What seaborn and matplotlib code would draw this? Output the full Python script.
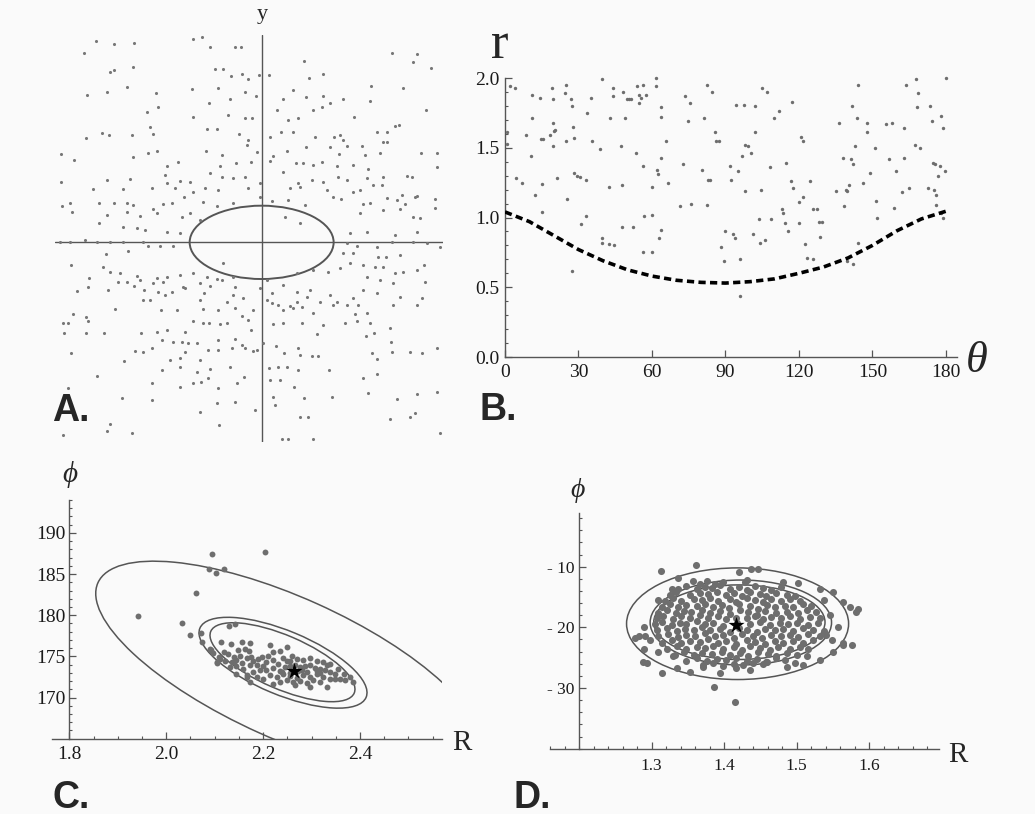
import numpy as np
import pandas as pd
import matplotlib
matplotlib.use("Agg")
import matplotlib.pyplot as plt
import seaborn as sns
from matplotlib.patches import Ellipse, Circle
from matplotlib.transforms import Affine2D
from matplotlib.ticker import MultipleLocator

# ---------------- data ----------------
# Panel A: scattered (x, y) points, arbitrary units centred on the crosshair
a_x = [-498, -442, -382, -207, -180, -154, -79, -63, -533, 390, 465, 455, 128, -387, 508, -455, -444, -140, -115, 183, 143, -93, -58, -40, -7, 23,
       -525, -465, -405, -317, -210, -130, -50, -17, 93, 327, 425, 245, 185, 133, 63, -95, 325, 493,
       -312, -345, -157, 45, 153, 182, 205, 277, -205, -100, -50, -30, 80, 110, 412, 400, 345, 375, -480, -527, -458, -390, -335, -327, -165, -135, -67, 25, 57, 95, 160, 217, 235, 245,
       -602, -563, -387, -340, -315, -167, -118, -40, -45, -15, 33, 75, 133, 205, 255, 300, 233, 310, 355, 477, 525, 365, 375, -283, -250, -125, -78, -33, 25, 103, 123, 155, 180, 227, 275, 320, 525,
       -465, -395, -290, -245, -215, -155, -120, -85, -50, -5, 65, 108, 150, 185, 230, 255, 315, 365, 435, 452, -602, -505, -415, -330, -285, -260, -205, -170, -130, -40, -5, 85, 115, 195, 275, 295, 335, 360, 420, 465,
       -598, -575, -570, -487, -442, -405, -385, -325, -295, -270, -233, -175, -135, -85, 30, 80, 130, 215, 237, 305, 325, 375, 405, 460, 520, 520,
       -465, -405, -365, -315, -240, -215, -185, 70, 115, 295, 365, 415, 430, 455, 475, -487, -417, -375, -350, -285, -245, 265, 315, 400, 465,
       -605, -575, -530, -495, -455, -415, -355, -305, -265, 255, 285, 345, 390, 455, 495, 535, -400, -340, -467, 245, 273, 350, 373, 415,
       -573, -475, -455, -425, -375, -315, -285, -245, -205, -165, -117, -135, -85, 105, 155, 200, 235, 265, 305, 340, 365, 400, 425, 465, 487, -517, -430, -405, -365, -325, -295, -235, -185, -155, -120, -80, -5, 15, 65, 105, 145, 315, 355, 395, 490,
       -553, -520, -460, -382, -352, -310, -270, -230, -173, -85, 30, 105, 135, 175, 205, 225, 275, 305, 345, 415,
       -357, -335, -290, -185, -105, -55, 15, 30, 50, 85, 120, 155, 215, 255, 290, 395, 465, 480, -440, -302, -255, -175, -130, -80, -25, 65, 95, 280, 315,
       -595, -580, -565, -527, -520, -592, -527, -473, -362, -315, -285, -230, -207, -175, -157, -125, -105, -60, -40, -33, 33, 63, 120, 165, 185, 250, 287, 325, 385, 337, 313, 387, 525, -300, -265, -240, -220, -195, -130, -80, -60, 3, 43, 110,
       -573, -413, -380, -355, -328, -275, -245, -230, -185, -160, -130, -90, -50, -25, -15, 67, 115, 150, 170, 330, 345, 390, 445, 480, -493, -300, -245, -195, -155, -95, -53, 23, 50, 75, 110, 305, 345, 203,
       -328, -245, -205, -183, -160, -132, -75, 25, 55, 98, -420, -330, -185, -135, -80, -20, 35, 40, 115, 140, 127, 210, 320, 405, 465, 525, -582,
       -455, -465, -390, -595, -128, 60, 80, 155, 385, 445, 460, 535]
a_y = [605, 595, 597, 609, 617, 585, 587, 587, 569, 569, 564, 540, 544, 527, 524, 512, 517, 519, 519, 504, 494, 499, 504, 489, 502, 501,
       442, 452, 465, 447, 460, 464, 452, 439, 457, 469, 464, 429, 439, 437, 430, 430, 424, 397,
       405, 390, 417, 397, 397, 405, 419, 377, 377, 382, 372, 372, 367, 372, 352, 349, 332, 332, 329, 314, 322, 322, 347, 324, 339, 339, 325, 317, 332, 332, 317, 317, 322, 307,
       265, 247, 257, 267, 275, 275, 262, 307, 292, 272, 259, 274, 287, 287, 290, 290, 265, 262, 267, 269, 269, 302, 302, 229, 242, 229, 239, 240, 244, 237, 239, 232, 240, 229, 232, 220, 227,
       187, 190, 202, 184, 182, 207, 197, 194, 197, 177, 212, 179, 187, 182, 197, 187, 194, 197, 199, 197, 180, 160, 160, 162, 177, 162, 152, 162, 157, 162, 137, 162, 167, 157, 152, 157, 172, 172, 142, 140,
       110, 117, 92, 117, 117, 119, 112, 99, 115, 117, 137, 122, 110, 117, 124, 127, 112, 137, 129, 115, 119, 132, 127, 137, 130, 102,
       82, 90, 79, 87, 77, 87, 67, 77, 57, 87, 97, 99, 115, 77, 72, 59, 47, 42, 37, 32, 27, 27, 32, 22, 32,
       0, 0, 7, 0, 0, 0, 0, -10, -10, -3, -10, -13, 0, 0, -3, -13, -25, -10, -36, -33, -33, -43, -43, -38,
       -68, -75, -88, -93, -101, -108, -103, -98, -93, -103, -63, -111, -103, -91, -83, -88, -78, -63, -68, -73, -73, -93, -88, -83, -68, -106, -118, -118, -113, -123, -118, -133, -123, -130, -113, -133, -138, -113, -128, -148, -143, -105, -113, -123, -118,
       -145, -135, -143, -131, -143, -148, -148, -138, -153, -158, -153, -178, -163, -178, -158, -178, -168, -143, -153, -163,
       -173, -173, -158, -173, -178, -168, -173, -183, -188, -191, -193, -213, -188, -188, -188, -188, -188, -168, -201, -203, -203, -201, -203, -198, -203, -203, -198, -216, -211,
       -243, -241, -215, -223, -235, -271, -273, -273, -271, -268, -263, -270, -235, -241, -241, -245, -243, -221, -233, -263, -245, -241, -241, -276, -248, -241, -235, -241, -258, -273, -281, -298, -318, -293, -298, -298, -303, -303, -293, -290, -308, -303, -310, -318,
       -333, -355, -326, -328, -318, -353, -348, -328, -353, -323, -323, -318, -318, -325, -323, -333, -338, -341, -341, -333, -351, -328, -328, -333, -401, -383, -373, -388, -381, -373, -405, -378, -373, -373, -383, -406, -395, -383,
       -423, -433, -423, -418, -408, -438, -423, -413, -413, -435, -466, -473, -508, -481, -478, -503, -463, -488, -523, -523, -466, -465, -453, -470, -456, -448, -438,
       -545, -566, -571, -578, -548, -591, -591, -591, -531, -523, -513, -573]
a_ell_w, a_ell_h = 432, 220

# Panel B: r against theta (degrees), and the dashed boundary curve
b_theta = [2.2, 3.9, 1.0, 1.0, 4.6, 6.8, 8.7, 10.9, 11.2, 10.7,
           12.2, 14.4, 14.8, 15.1, 15.2, 15.5, 18.4, 19.2, 19.5, 19.5,
           19.5, 19.9, 20.3, 21.3, 25.0, 24.5, 25.1, 25.4, 26.9, 27.4,
           27.9, 28.0, 28.3, 29.3, 27.4, 30.8, 31.2, 33.0, 33.0, 33.4,
           35.6, 35.3, 38.8, 39.5, 39.5, 39.5, 42.4, 42.8, 43.9, 43.9,
           44.6, 42.4, 47.5, 47.8, 47.8, 48.2, 48.9, 49.7, 50.7, 51.5,
           52.1, 53.6, 54.0, 54.7, 54.7, 55.5, 56.2, 56.5, 56.5, 56.9,
           57.6, 59.8, 59.8, 59.8, 61.7, 61.7, 62.0, 62.4, 62.7, 63.5,
           63.5, 63.7, 63.7, 65.6, 66.6, 71.6, 72.5, 73.6, 74.6, 75.4,
           75.8, 81.3, 82.3, 80.6, 82.8, 83.8, 82.3, 84.5, 85.7, 86.0,
           87.4, 88.1, 89.3, 89.6, 92.2, 91.8, 93.2, 93.9, 94.2, 95.0,
           96.1, 96.1, 96.6, 97.6, 97.9, 98.0, 99.0, 100.5, 101.2, 101.9,
           101.9, 103.8, 104.5, 104.1, 104.8, 106.3, 107.0, 108.2, 108.5, 109.6,
           111.7, 113.1, 113.5, 114.3, 114.6, 115.7, 116.9, 117.2, 117.5, 120.1,
           120.1, 120.8, 121.5, 121.5, 122.3, 123.3, 124.4, 125.6, 125.9, 127.3,
           128.1, 128.5, 129.5, 135.3, 136.3, 137.8, 138.2, 139.0, 139.7, 140.4,
           139.7, 141.1, 141.6, 141.9, 142.2, 143.0, 143.6, 144.0, 144.0, 146.2,
           147.7, 147.7, 148.8, 150.9, 151.3, 152.0, 155.7, 156.7, 157.8, 158.6,
           159.6, 161.9, 162.9, 162.9, 163.6, 165.1, 167.3, 167.7, 168.3, 168.7,
           169.2, 172.6, 173.5, 174.1, 174.5, 175.2, 175.5, 175.9, 175.9, 176.7,
           177.4, 177.8, 178.1, 178.8, 178.8, 179.9, 179.6]
b_r = [1.94, 1.93, 1.61, 1.53, 1.28, 1.25, 1.59, 1.88, 1.71, 1.44,
       1.16, 1.86, 1.56, 1.24, 1.04, 1.56, 1.59, 1.93, 1.85, 1.68,
       1.51, 1.62, 1.63, 1.28, 1.95, 1.89, 1.55, 1.13, 1.85, 1.80,
       1.65, 1.57, 1.32, 1.30, 0.62, 1.29, 0.95, 1.27, 1.01, 1.75,
       1.55, 1.86, 1.49, 1.99, 0.85, 0.82, 1.22, 1.71, 1.93, 1.87,
       0.80, 0.81, 1.51, 1.23, 0.93, 1.90, 1.71, 1.85, 1.85, 1.85,
       0.93, 1.46, 1.94, 1.88, 1.82, 1.86, 1.95, 1.37, 0.75, 1.01,
       1.88, 1.22, 1.02, 0.75, 2.00, 1.94, 1.34, 1.31, 0.85, 0.91,
       1.79, 1.72, 1.43, 1.55, 1.25, 1.08, 1.38, 1.87, 1.69, 1.82,
       1.10, 1.71, 1.09, 1.34, 1.27, 1.27, 1.95, 1.90, 1.61, 1.55,
       1.55, 0.79, 0.69, 0.90, 1.27, 1.37, 0.88, 0.85, 1.81, 1.33,
       0.70, 0.44, 1.44, 1.81, 1.19, 1.52, 1.51, 1.46, 0.88, 1.80,
       1.61, 0.99, 1.20, 0.82, 1.93, 0.84, 1.90, 1.36, 0.99, 1.71,
       1.76, 1.06, 1.03, 0.96, 1.39, 0.90, 1.26, 1.83, 1.21, 1.11,
       0.96, 1.58, 1.55, 1.15, 0.81, 0.71, 1.26, 1.06, 0.70, 1.06,
       0.97, 0.86, 0.97, 1.19, 1.68, 1.43, 1.08, 1.20, 1.19, 1.23,
       0.69, 1.42, 1.80, 1.38, 0.67, 1.51, 1.71, 0.82, 1.95, 1.25,
       1.68, 1.61, 1.32, 1.50, 1.12, 1.00, 1.67, 1.42, 1.68, 1.07,
       1.33, 1.18, 1.64, 1.43, 1.95, 1.21, 1.52, 1.99, 1.79, 1.89,
       1.50, 1.21, 1.80, 1.69, 1.39, 1.20, 1.38, 1.16, 1.09, 1.30,
       1.37, 1.03, 1.73, 1.64, 1.00, 2.00, 1.33]
b_curve_theta = [0, 10, 20, 30, 40, 50, 60, 70, 80, 90, 100, 110, 120, 130, 140, 150, 160, 170, 180]
b_curve_r = [1.04, 0.97, 0.87, 0.77, 0.69, 0.625, 0.58, 0.55, 0.535, 0.53, 0.54, 0.56, 0.60, 0.645, 0.71, 0.80, 0.905, 0.99, 1.045]

# Panel C: (R, phi) samples, best fit (star) and confidence ellipses
c_R = [2.094, 2.204, 2.089, 2.103, 2.120, 2.062, 1.941, 2.033, 2.049, 2.072,
       2.073, 2.092, 2.110, 2.130, 2.143, 2.105, 2.166,
       2.114, 2.133, 2.156, 2.173, 2.119, 2.128, 2.139, 2.149, 2.152, 2.163,
       2.170, 2.176, 2.111, 2.121, 2.135, 2.145, 2.156, 2.166, 2.180, 2.190,
       2.197, 2.214, 2.221, 2.235, 2.249, 2.211, 2.132, 2.145, 2.159, 2.173,
       2.187, 2.200, 2.207, 2.221, 2.231, 2.242, 2.255, 2.269, 2.283, 2.297,
       2.311, 2.324, 2.338, 2.355, 2.366, 2.379, 2.386, 2.104, 2.097, 2.090,
       2.166, 2.180, 2.194, 2.207, 2.221, 2.235, 2.245, 2.255, 2.266, 2.276,
       2.286, 2.297, 2.307, 2.317, 2.328, 2.338, 2.348, 2.359, 2.369, 2.214,
       2.228, 2.242, 2.255, 2.269, 2.283, 2.297, 2.311, 2.324, 2.338, 2.348,
       2.249, 2.262, 2.276, 2.290, 2.304, 2.317, 2.266, 2.297, 2.331, 2.235,
       2.221, 2.187, 2.173, 2.200, 2.145, 2.139, 2.280, 2.290, 2.255, 2.273,
       2.238, 2.249, 2.259, 2.317, 2.331, 2.311]
c_phi = [187.4, 187.7, 185.6, 185.1, 185.6, 182.7, 179.9, 179.1, 177.6, 177.8,
         176.8, 175.8, 174.9, 178.7, 178.9, 174.2, 172.5,
         176.8, 176.5, 176.7, 176.6, 175.5, 175.3, 174.9, 175.8, 175.1, 175.9,
         175.6, 174.9, 174.7, 174.5, 174.3, 174.6, 174.2, 174.8, 174.4, 174.7,
         174.9, 176.4, 175.5, 175.6, 176.1, 175.1, 173.7, 173.8, 173.5, 173.9,
         174.0, 173.8, 174.3, 174.6, 174.1, 174.8, 174.5, 174.7, 174.6, 174.8,
         174.5, 174.3, 174.1, 173.5, 172.9, 172.5, 171.9, 174.3, 175.4, 175.9,
         172.7, 173.1, 173.3, 173.4, 173.6, 173.2, 173.7, 173.8, 174.0, 173.7,
         173.8, 173.9, 173.6, 173.5, 173.3, 173.1, 172.9, 172.3, 172.1, 172.7,
         172.5, 172.8, 172.6, 172.4, 172.7, 172.5, 172.8, 172.5, 172.3, 172.2,
         172.1, 171.9, 172.0, 171.8, 172.1, 171.9, 171.5, 171.3, 171.3, 171.9,
         171.7, 172.5, 171.9, 172.3, 172.9, 174.3, 173.3, 173.1, 173.0, 173.2,
         173.1, 174.4, 175.0, 173.0, 173.9, 173.2]
c_star = (2.264, 173.2)
# ellipse = centre + cos(t) * u + sin(t) * v  (u, v are semi-axis vectors in data units)
c_ell_center = [(2.2514, 173.56), (2.2411, 174.23), (2.240, 174.29)]
c_ell_u = [(0.3923, -10.38), (0.1715, -4.20), (0.1480, -3.75)]
c_ell_v = [(0.0598, 7.84), (0.0253, 3.58), (0.0219, 2.99)]

# Panel D: (R, phi) samples, best fit and axis-aligned ellipses
d_R = [1.357, 1.367, 1.376, 1.387, 1.399, 1.429,
       1.337, 1.348, 1.362, 1.374, 1.383, 1.394, 1.408, 1.420, 1.431, 1.442, 1.454, 1.465, 1.479,
       1.325, 1.334, 1.353, 1.367, 1.378, 1.390, 1.403, 1.413, 1.424, 1.436, 1.449, 1.458, 1.472, 1.486, 1.497,
       1.318, 1.330, 1.341, 1.358, 1.369, 1.380, 1.392, 1.408, 1.417, 1.431, 1.442, 1.454, 1.465, 1.479, 1.491, 1.504,
       1.314, 1.325, 1.337, 1.348, 1.362, 1.374, 1.385, 1.397, 1.406, 1.420, 1.436, 1.447, 1.459, 1.470, 1.484, 1.495, 1.509, 1.520,
       1.309, 1.321, 1.333, 1.344, 1.355, 1.369, 1.380, 1.394, 1.408, 1.422, 1.433, 1.445, 1.456, 1.472, 1.486, 1.502, 1.514, 1.527,
       1.307, 1.316, 1.330, 1.341, 1.353, 1.367, 1.378, 1.392, 1.403, 1.417, 1.431, 1.442, 1.454, 1.465, 1.479, 1.491, 1.504, 1.518, 1.532,
       1.305, 1.314, 1.328, 1.339, 1.348, 1.362, 1.374, 1.385, 1.399, 1.418, 1.436, 1.449, 1.463, 1.477, 1.488, 1.500, 1.516, 1.530,
       1.307, 1.321, 1.335, 1.346, 1.358, 1.369, 1.380, 1.394, 1.408, 1.420, 1.431, 1.445, 1.456, 1.470, 1.481, 1.495, 1.509, 1.523, 1.537,
       1.309, 1.323, 1.337, 1.348, 1.360, 1.374, 1.387, 1.399, 1.413, 1.424, 1.440, 1.452, 1.465, 1.479, 1.491, 1.502, 1.516, 1.532,
       1.314, 1.328, 1.341, 1.353, 1.367, 1.378, 1.392, 1.403, 1.417, 1.431, 1.442, 1.456, 1.470, 1.481, 1.495, 1.509, 1.523,
       1.321, 1.335, 1.348, 1.362, 1.374, 1.385, 1.399, 1.413, 1.424, 1.436, 1.449, 1.463, 1.474, 1.491, 1.504, 1.516,
       1.332, 1.344, 1.358, 1.369, 1.383, 1.397, 1.408, 1.422, 1.433, 1.447, 1.461, 1.472, 1.486, 1.500,
       1.348, 1.362, 1.376, 1.390, 1.403, 1.417, 1.431, 1.445, 1.458, 1.472, 1.484,
       1.371, 1.385, 1.399, 1.413, 1.426, 1.440, 1.454,
       1.313, 1.361, 1.421, 1.446, 1.336, 1.431, 1.481, 1.502, 1.532, 1.550,
       1.564, 1.585, 1.582, 1.537, 1.309, 1.328, 1.289, 1.282, 1.291, 1.298,
       1.289, 1.546, 1.557, 1.541, 1.564, 1.576, 1.550, 1.514, 1.293, 1.314,
       1.335, 1.353, 1.371, 1.394, 1.417, 1.436, 1.459, 1.486, 1.498, 1.509,
       1.532, 1.330, 1.309, 1.277, 1.288, 1.386, 1.415, 1.573, 1.564, 1.548, 1.437]
d_phi = [-12.3, -12.8, -12.4, -12.9, -12.5, -12.6,
         -13.6, -13.2, -13.7, -13.3, -13.5, -13.1, -13.6, -13.3, -13.8, -13.2, -13.5, -13.9, -13.4,
         -14.6, -14.2, -14.7, -14.3, -14.5, -14.1, -14.6, -14.3, -14.8, -14.2, -14.5, -14.9, -14.3, -14.6, -14.8,
         -15.6, -15.2, -15.7, -15.3, -15.5, -15.1, -15.6, -15.3, -15.8, -15.2, -15.5, -15.9, -15.3, -15.6, -15.4, -15.7,
         -16.6, -16.2, -16.7, -16.3, -16.5, -16.1, -16.6, -16.3, -16.8, -16.2, -16.5, -16.9, -16.3, -16.6, -16.4, -16.7, -16.2, -16.5,
         -17.6, -17.2, -17.7, -17.3, -17.5, -17.1, -17.6, -17.3, -17.8, -17.2, -17.5, -17.9, -17.3, -17.6, -17.4, -17.7, -17.2, -17.5,
         -18.5, -18.1, -18.6, -18.2, -18.4, -18.0, -18.5, -18.2, -18.7, -18.4, -18.4, -18.1, -18.6, -18.3, -18.5, -18.2, -18.6, -18.3, -18.5,
         -19.5, -19.1, -19.6, -19.2, -19.4, -19.0, -19.5, -19.2, -19.7, -19.3, -19.4, -19.1, -19.6, -19.3, -19.5, -19.2, -19.6, -19.3,
         -20.5, -20.1, -20.6, -20.2, -20.4, -20.0, -20.5, -20.2, -20.7, -20.1, -20.4, -20.8, -20.2, -20.5, -20.3, -20.6, -20.1, -20.4, -20.6,
         -21.5, -21.1, -21.6, -21.2, -21.4, -21.0, -21.5, -21.2, -21.7, -21.1, -21.4, -21.8, -21.2, -21.5, -21.3, -21.6, -21.1, -21.4,
         -22.5, -22.1, -22.6, -22.2, -22.4, -22.0, -22.5, -22.2, -22.7, -22.1, -22.4, -22.8, -22.2, -22.5, -22.3, -22.6, -22.1,
         -23.5, -23.1, -23.6, -23.2, -23.4, -23.0, -23.5, -23.2, -23.7, -23.1, -23.4, -23.8, -23.2, -23.5, -23.3, -23.6,
         -24.5, -24.1, -24.6, -24.2, -24.4, -24.0, -24.5, -24.2, -24.7, -24.1, -24.4, -24.8, -24.2, -24.5,
         -25.5, -25.1, -25.6, -25.2, -25.4, -25.0, -25.5, -25.2, -25.7, -25.1, -25.4,
         -26.2, -25.9, -26.3, -26.0, -26.2, -25.9, -26.1,
         -10.7, -9.7, -10.8, -10.4, -11.9, -12.2, -12.5, -12.7, -13.7, -14.1,
         -15.8, -16.9, -17.4, -15.5, -15.5, -13.6, -19.9, -21.5, -21.5, -22.1,
         -23.5, -18.0, -19.9, -21.3, -22.6, -22.9, -24.0, -24.8, -25.8, -27.6,
         -26.7, -27.3, -26.5, -27.6, -26.7, -27.0, -25.7, -26.5, -25.9, -26.2,
         -25.4, -24.8, -24.0, -21.7, -25.7, -29.8, -32.3, -16.7, -22.9, -22.1, -10.3]
d_star = (1.417, -19.6)
d_ell_center = [(1.4185, -19.4), (1.423, -19.2), (1.421, -19.15)]
d_ell_w = [0.306, 0.250, 0.236]
d_ell_h = [18.4, 14.0, 12.3]

# ---------------- styling ----------------
W, H = 1035, 814
BG = "#fafafa"
PT = "#6e6e6e"
LINE = "#555555"
SERIF = ["Liberation Serif", "DejaVu Serif"]
SANS = ["Liberation Sans", "DejaVu Sans"]

sns.set_style("ticks")
plt.rcParams["font.family"] = SERIF

fig = plt.figure(figsize=(W / 100, H / 100), dpi=100, facecolor=BG)


def box(l, t, r, b):
    # axes placed by pixel edges (left, top, right, bottom)
    ax = fig.add_axes([l / W, 1 - b / H, (r - l) / W, (b - t) / H])
    ax.set_facecolor("none")
    return ax


def label(x, y, s, **kw):
    fig.text(x / W, 1 - y / H, s, **kw)


def style_axes(ax, size):
    for side in ["top", "right"]:
        ax.spines[side].set_visible(False)
    for side in ["left", "bottom"]:
        ax.spines[side].set_color(LINE)
        ax.spines[side].set_linewidth(1.0)
    ax.tick_params(which="major", direction="in", length=5, width=0.9, color=LINE,
                   labelsize=size, labelcolor="#1a1a1a")
    ax.tick_params(which="minor", direction="in", length=2.5, width=0.8, color=LINE)


def rot_ellipse(ax, c, u, v):
    t = Affine2D(np.array([[u[0], v[0], c[0]], [u[1], v[1], c[1]], [0, 0, 1]]))
    ax.add_patch(Circle((0, 0), 1, transform=t + ax.transData, fill=False,
                        ec=LINE, lw=1.1, zorder=2))


# ---------------- A ----------------
axA = box(55, 35, 443.3, 441.7)
sns.scatterplot(x=a_x, y=a_y, ax=axA, color="#777777", s=5, linewidth=0, zorder=3)
axA.axhline(0, color=LINE, lw=1.0, zorder=2)
axA.axvline(0, color=LINE, lw=1.0, zorder=2)
axA.add_patch(Ellipse((0, 0), a_ell_w, a_ell_h, fill=False, ec=LINE, lw=1.4, zorder=2))
axA.set_xlim(-620, 545)
axA.set_ylim(-598, 622)
axA.axis("off")
label(262, 15, "y", family=SERIF, fontsize=16, ha="center", va="center")

# ---------------- B ----------------
axB = box(505, 78, 957, 357)
sns.scatterplot(x=b_theta, y=b_r, ax=axB, color=PT, s=6, linewidth=0, clip_on=False, zorder=3)
sns.lineplot(x=b_curve_theta, y=b_curve_r, ax=axB, color="black", lw=2.6,
             linestyle=(0, (2.0, 1.2)), zorder=4)
axB.set_xlim(0, 184.5)
axB.set_ylim(0, 2.0)
style_axes(axB, 14)
axB.set_xticks([0, 30, 60, 90, 120, 150, 180])
axB.set_yticks([0, 0.5, 1.0, 1.5, 2.0])
axB.set_yticklabels(["0.0", "0.5", "1.0", "1.5", "2.0"])
axB.yaxis.set_minor_locator(MultipleLocator(0.1))
axB.tick_params(axis="y", which="major", pad=4)
axB.tick_params(axis="x", which="major", pad=5)
axB.set_xlabel("")
axB.set_ylabel("")
label(500, 58, "r", family=SERIF, fontsize=38, ha="center", va="baseline")
label(966, 372, "θ", family=SERIF, style="italic", fontsize=32, ha="left", va="baseline")

# ---------------- C ----------------
axC = box(51.7, 500, 441.7, 738.7)
for c, u, v in zip(c_ell_center, c_ell_u, c_ell_v):
    rot_ellipse(axC, c, u, v)
sns.scatterplot(x=c_R, y=c_phi, ax=axC, color=PT, s=18, linewidth=0, zorder=3)
sns.scatterplot(x=[c_star[0]], y=[c_star[1]], ax=axC, color="black", marker="*", s=150,
                linewidth=0, zorder=5)
axC.set_xlim(1.7637, 2.5686)
axC.set_ylim(165, 194)
style_axes(axC, 14)
axC.spines["left"].set_position(("data", 1.8))
axC.set_xticks([1.8, 2.0, 2.2, 2.4])
axC.set_xticklabels(["1.8", "2.0", "2.2", "2.4"])
axC.xaxis.set_minor_locator(MultipleLocator(0.05))
axC.set_yticks([170, 175, 180, 185, 190])
axC.yaxis.set_minor_locator(MultipleLocator(1))
axC.tick_params(axis="y", which="major", pad=3)
axC.tick_params(axis="x", which="major", pad=5)
axC.set_xlabel("")
axC.set_ylabel("")
label(70, 475, "ϕ", family=SERIF, style="italic", fontsize=21, ha="center", va="center")
label(452, 750, "R", family=SERIF, fontsize=21, ha="left", va="baseline")

# ---------------- D ----------------
axD = box(550, 513.3, 939.3, 748.7)
for c, w, h in zip(d_ell_center, d_ell_w, d_ell_h):
    axD.add_patch(Ellipse(c, w, h, fill=False, ec=LINE, lw=1.1, zorder=2))
sns.scatterplot(x=d_R, y=d_phi, ax=axD, color=PT, s=26, linewidth=0, zorder=3)
sns.scatterplot(x=[d_star[0]], y=[d_star[1]], ax=axD, color="black", marker="*", s=150,
                linewidth=0, zorder=5)
axD.set_xlim(1.160, 1.6965)
axD.set_ylim(-40, -1.2)
style_axes(axD, 12.5)
axD.spines["left"].set_position(("data", 1.2))
axD.set_xticks([1.3, 1.4, 1.5, 1.6])
axD.set_xticklabels(["1.3", "1.4", "1.5", "1.6"])
axD.xaxis.set_minor_locator(MultipleLocator(0.02))
axD.set_yticks([-30, -20, -10])
axD.set_yticklabels(["- 30", "- 20", "- 10"])
axD.yaxis.set_minor_locator(MultipleLocator(2))
axD.tick_params(axis="y", which="major", pad=3)
axD.tick_params(axis="x", which="major", pad=7)
axD.set_xlabel("")
axD.set_ylabel("")
label(578, 490, "ϕ", family=SERIF, style="italic", fontsize=20, ha="center", va="center")
label(948, 762, "R", family=SERIF, fontsize=21, ha="left", va="baseline")

# ---------------- panel letters ----------------
for (x, y), s in zip([(52, 421), (480, 420), (53, 808), (513, 808)], ["A.", "B.", "C.", "D."]):
    label(x, y, s, family=SANS, fontsize=27, fontweight="bold", ha="left", va="baseline")

fig.savefig("out.png", dpi=100, facecolor=BG)
